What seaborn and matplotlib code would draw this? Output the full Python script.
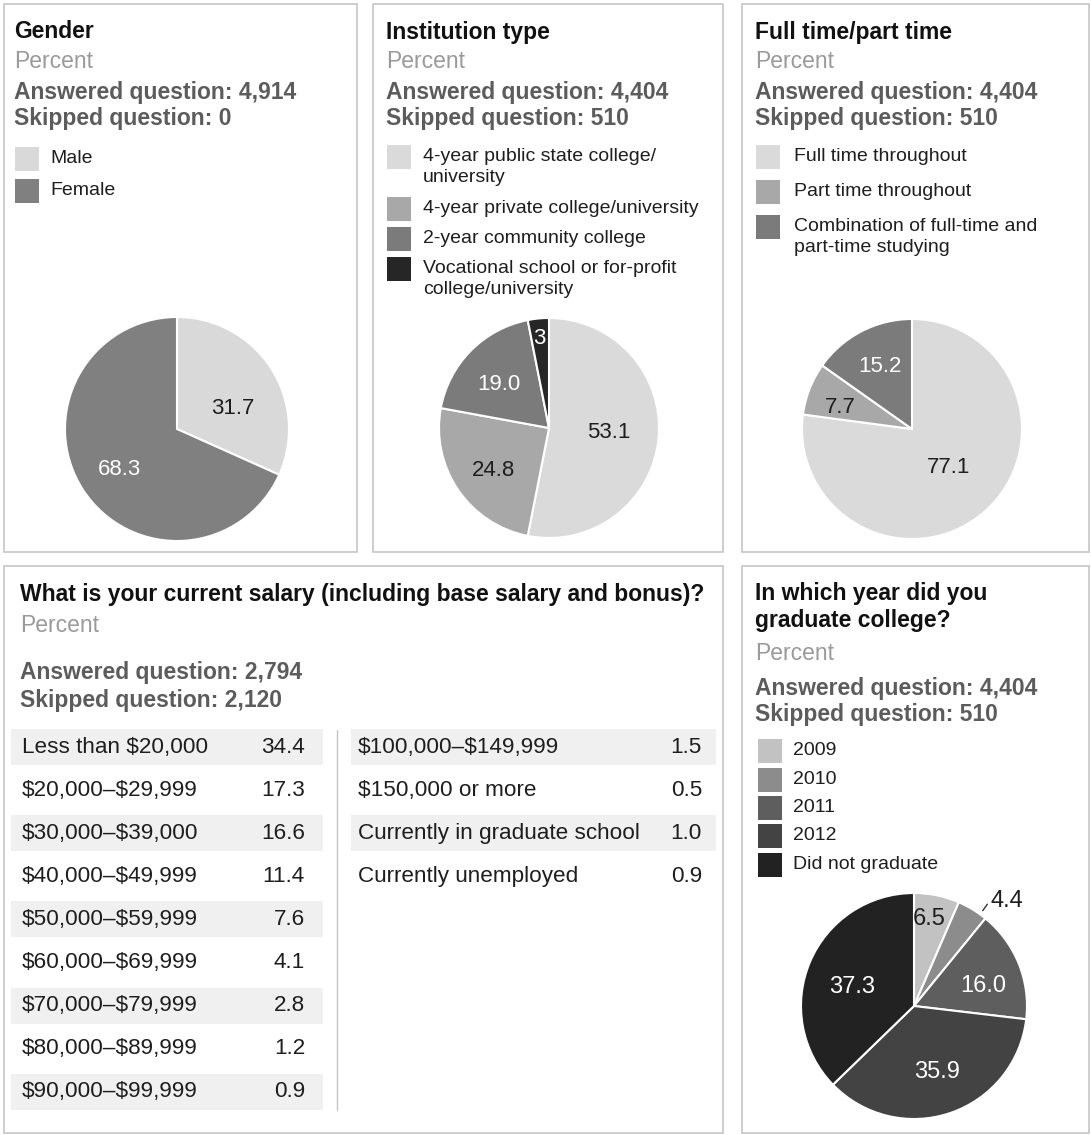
import numpy as np
import matplotlib
matplotlib.use("Agg")
import matplotlib.pyplot as plt
from matplotlib.patches import Rectangle
import seaborn as sns

# figure size in pixels (dpi 100)
W, H = 1091, 1135

# ---- data ----
gender_labels = ["Male", "Female"]
gender_values = [31.7, 68.3]
gender_text = ["31.7", "68.3"]
gender_counts = (4914, 0)

inst_labels = ["4-year public state college/\nuniversity",
               "4-year private college/university",
               "2-year community college",
               "Vocational school or for-profit\ncollege/university"]
inst_values = [53.1, 24.8, 19.0, 3.1]
inst_text = ["53.1", "24.8", "19.0", "3"]
inst_counts = (4404, 510)

time_labels = ["Full time throughout",
               "Part time throughout",
               "Combination of full-time and\npart-time studying"]
time_values = [77.1, 7.7, 15.2]
time_text = ["77.1", "7.7", "15.2"]
time_counts = (4404, 510)

year_labels = ["2009", "2010", "2011", "2012", "Did not graduate"]
year_values = [6.5, 4.4, 16.0, 35.9, 37.3]
year_text = ["6.5", "4.4", "16.0", "35.9", "37.3"]
year_counts = (4404, 510)

salary_left = ["Less than $20,000", "$20,000\u2013$29,999", "$30,000\u2013$39,000",
               "$40,000\u2013$49,999", "$50,000\u2013$59,999", "$60,000\u2013$69,999",
               "$70,000\u2013$79,999", "$80,000\u2013$89,999", "$90,000\u2013$99,999"]
salary_left_values = [34.4, 17.3, 16.6, 11.4, 7.6, 4.1, 2.8, 1.2, 0.9]
salary_right = ["$100,000\u2013$149,999", "$150,000 or more",
                "Currently in graduate school", "Currently unemployed"]
salary_right_values = [1.5, 0.5, 1.0, 0.9]
salary_counts = (2794, 2120)

# ---- style ----
sns.set_theme(style="white")
plt.rcParams['font.family'] = ['Liberation Sans', 'DejaVu Sans']

DARK = "#1e1e1e"
TITLE_C = "#111111"
PCT_C = "#9a9a9a"
ANS_C = "#5c5c5c"
BORDER_C = "#c6c6c6"
HEAD_FS = 16.5
LEG_FS = 14
TABLE_FS = 16.2

gender_colors = ["#d9d9d9", "#808080"]
inst_colors = ["#dadada", "#a8a8a8", "#7b7b7b", "#262626"]
time_colors = ["#dadada", "#a8a8a8", "#7b7b7b"]
year_colors = ["#c2c2c2", "#8c8c8c", "#5e5e5e", "#434343", "#222222"]

fig = plt.figure(figsize=(W / 100, H / 100), dpi=100)
fig.patch.set_facecolor("white")

# background axes in pixel coordinates (y down)
bg = fig.add_axes([0, 0, 1, 1])
bg.set_xlim(0, W)
bg.set_ylim(H, 0)
bg.axis("off")


def px_axes(x0, y0, x1, y1):
    return fig.add_axes([x0 / W, 1 - y1 / H, (x1 - x0) / W, (y1 - y0) / H])


def panel_box(x0, y0, x1, y1):
    bg.add_patch(Rectangle((x0, y0), x1 - x0, y1 - y0, fill=False,
                           edgecolor=BORDER_C, linewidth=1.2))


def header(x, ys, title, counts):
    t_y, p_y, a_y, s_y = ys
    bg.text(x, t_y, title, fontsize=HEAD_FS, fontweight="bold", color=TITLE_C,
            va="center", ha="left", linespacing=1.25)
    bg.text(x, p_y, "Percent", fontsize=HEAD_FS, color=PCT_C, va="center")
    bg.text(x, a_y, f"Answered question: {counts[0]:,}", fontsize=HEAD_FS,
            fontweight="bold", color=ANS_C, va="center")
    bg.text(x, s_y, f"Skipped question: {counts[1]:,}", fontsize=HEAD_FS,
            fontweight="bold", color=ANS_C, va="center")


def legend(x, tops, labels, colors, text_x):
    for top, lab, col in zip(tops, labels, colors):
        bg.add_patch(Rectangle((x, top), 24, 24, facecolor=col, edgecolor="none"))
        bg.text(text_x, top + 3, lab, fontsize=LEG_FS, color=DARK, va="top",
                linespacing=1.3)


def draw_pie(cx, cy, r, values, colors, texts, styles, fs):
    pad = 1.03
    ax = px_axes(cx - r * pad, cy - r * pad, cx + r * pad, cy + r * pad)
    wedges, _ = ax.pie(values, colors=colors, startangle=90, counterclock=False,
                       wedgeprops=dict(edgecolor="white", linewidth=1.5))
    ax.set_xlim(-pad, pad)
    ax.set_ylim(-pad, pad)
    ax.set_aspect("equal")
    for w, t, (dist, shift, col) in zip(wedges, texts, styles):
        ang = np.deg2rad((w.theta1 + w.theta2) / 2 + shift)
        ax.text(dist * np.cos(ang), dist * np.sin(ang), t, ha="center",
                va="center", color=col, fontsize=fs)
    return ax, wedges


# ---- panel frames ----
panel_box(4, 4, 357, 552)
panel_box(373, 4, 723, 552)
panel_box(742, 4, 1089, 552)
panel_box(4, 566, 723, 1133)
panel_box(742, 566, 1089, 1133)

top_ys = (32, 61, 92, 119)

# Gender
header(14, top_ys, "Gender", gender_counts)
legend(15, [147, 179], gender_labels, gender_colors, 50)
draw_pie(177, 429, 112, gender_values, gender_colors, gender_text,
         [(0.53, -13, DARK), (0.63, 2, "white")], 16)

# Institution type
header(386, top_ys, "Institution type", inst_counts)
legend(387, [145, 197, 227, 257], inst_labels, inst_colors, 423)
draw_pie(549, 428, 110, inst_values, inst_colors, inst_text,
         [(0.54, 1.6, DARK), (0.63, 3.2, DARK), (0.6, 3.7, "white"),
          (0.82, 0.4, "white")], 16)

# Full time / part time
header(755, top_ys, "Full time/part time", time_counts)
legend(756, [145, 180, 215], time_labels, time_colors, 794)
draw_pie(912, 429, 110, time_values, time_colors, time_text,
         [(0.48, 2.3, DARK), (0.68, 4.5, DARK), (0.64, 0, "white")], 16)

# Graduation year
header(755, (607, 653, 688, 714), "In which year did you\ngraduate college?", year_counts)
legend(758, [739, 768, 796, 824, 853], year_labels, year_colors, 793)
yax, ywedges = draw_pie(914, 1006, 113, year_values, year_colors, year_text,
                        [(0.78, 1.7, DARK), (1.24, -10.2, DARK), (0.64, -6, "white"),
                         (0.62, 0.5, "white"), (0.57, 6, "white")], 17)
# leader line for the thin 4.4 slice
w = ywedges[1]
ang = np.deg2rad((w.theta1 + w.theta2) / 2 - 4.5)
yax.plot([1.04 * np.cos(ang), 1.11 * np.cos(ang)],
         [1.04 * np.sin(ang), 1.11 * np.sin(ang)], color="#333333", lw=1,
         clip_on=False)

# Salary table
header(20, (595, 626, 673, 701),
       "What is your current salary (including base salary and bonus)?",
       salary_counts)

row0, pitch = 747, 43.1
n_rows = len(salary_left)
tab_top = row0 - pitch / 2
tab_bot = row0 + (n_rows - 0.5) * pitch


def salary_column(x0, x1, labels, values, label_x, value_x):
    ax = px_axes(x0, tab_top, x1, tab_bot)
    ax.set_xlim(x0, x1)
    ax.set_ylim(n_rows - 0.5, -0.5)
    ax.axis("off")
    idx = np.arange(len(labels))
    shaded = idx[idx % 2 == 0]
    ax.barh(shaded, [x1 - x0] * len(shaded), left=x0, height=36 / pitch,
            color="#f0f0f0", edgecolor="none")
    for i, (lab, val) in enumerate(zip(labels, values)):
        ax.text(label_x, i, lab, fontsize=TABLE_FS, color=DARK, va="center",
                ha="left", parse_math=False)
        ax.text(value_x, i, f"{val:.1f}", fontsize=TABLE_FS, color=DARK,
                va="center", ha="right")
    return ax


salary_column(11, 323, salary_left, salary_left_values, 22, 305)
salary_column(351, 716, salary_right, salary_right_values, 358, 702)
bg.plot([337, 337], [730, 1110], color="#c6c6c6", lw=1)

fig.savefig("out.png", dpi=100, facecolor="white")
